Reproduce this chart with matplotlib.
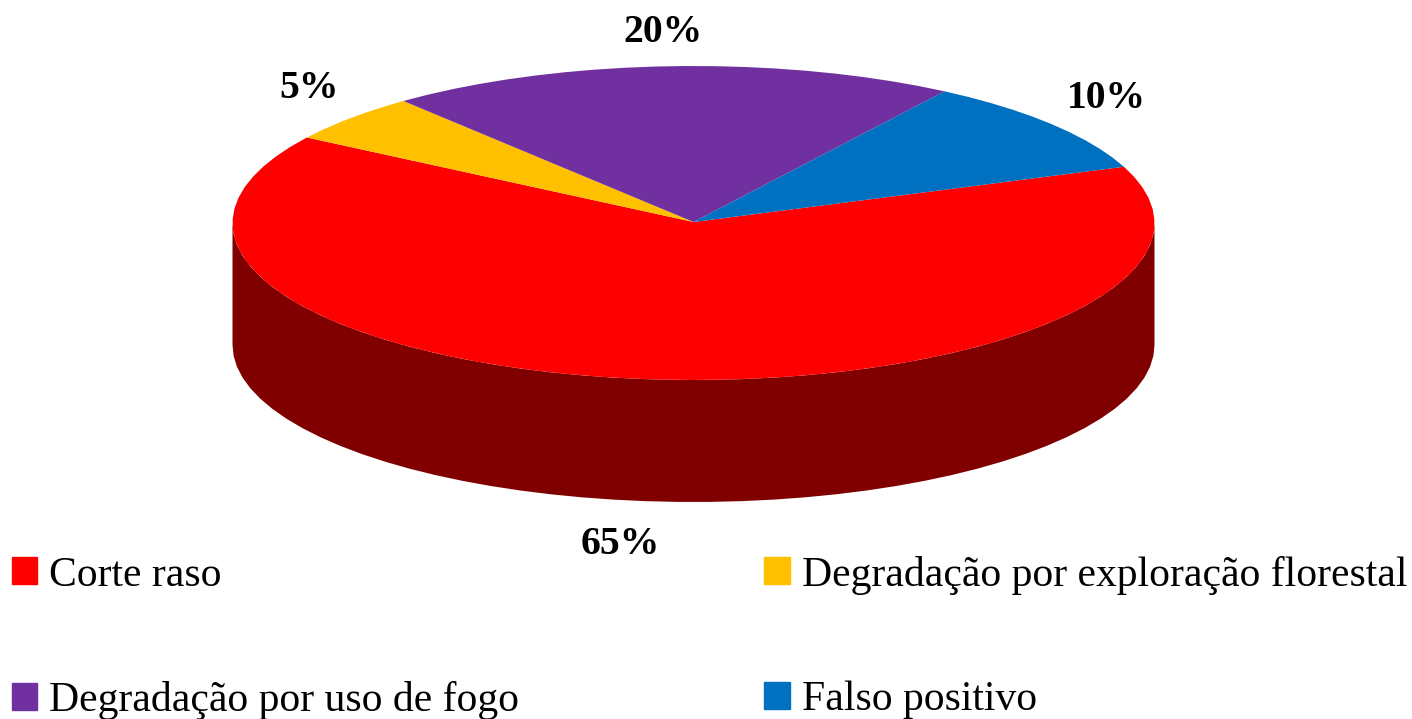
import matplotlib.pyplot as plt
import matplotlib.patches as mpatches
import numpy as np

plt.rcParams['font.family'] = ['Liberation Serif', 'DejaVu Serif']

categories = ['Corte raso', 'Degradação por exploração florestal',
              'Degradação por uso de fogo', 'Falso positivo']
values = [65, 5, 20, 10]
pct_labels = ['65%', '5%', '20%', '10%']
colors = ['#FF0000', '#FFC000', '#7030A0', '#0070C0']
side_color = '#800000'

# pie geometry in pixels
cx, cy = 693.5, 223
rx, ry = 461, 157
depth = 122
start = 21
label_pos = [(620, 544), (309, 88), (663, 32), (1106, 99)]

fig = plt.figure(figsize=(14.12, 7.19), dpi=100)
ax = fig.add_axes([0, 0, 1, 1])
ax.set_xlim(0, 1412)
ax.set_ylim(719, 0)
ax.axis('off')

# side wall, only the front half shows
t = np.radians(np.arange(180, 361, 4))
xs = cx + rx * np.cos(t)
ys = cy - ry * np.sin(t)
ax.fill(np.r_[xs, xs[::-1]], np.r_[ys + depth, ys[::-1]], color=side_color, lw=0)

# top, going clockwise from the start angle
a = start
for v, c in zip(values, colors):
    b = a - v / sum(values) * 360
    t = np.radians(np.linspace(a, b, int(abs(a - b) / 4) + 2))
    ax.fill(np.r_[cx, cx + rx * np.cos(t)], np.r_[cy - 1, cy - ry * np.sin(t)], color=c, lw=0)
    a = b

for s, (x, y) in zip(pct_labels, label_pos):
    ax.text(x, y, s, fontsize=28.5, fontweight='bold', ha='center', va='center', color='black')

# legend fills by column, so this order gives the rows of the reference
order = [0, 2, 1, 3]
handles = [mpatches.Patch(color=colors[i], label=categories[i]) for i in order]
ax.legend(handles=handles, ncol=2, loc='lower left', bbox_to_anchor=(0.0052, -0.007), frameon=False,
          fontsize=30, labelspacing=2.07, columnspacing=5.9, handlelength=0.62, handleheight=0.62,
          handletextpad=0.27, borderaxespad=0, borderpad=0.1)

fig.savefig('out.png', dpi=100)
